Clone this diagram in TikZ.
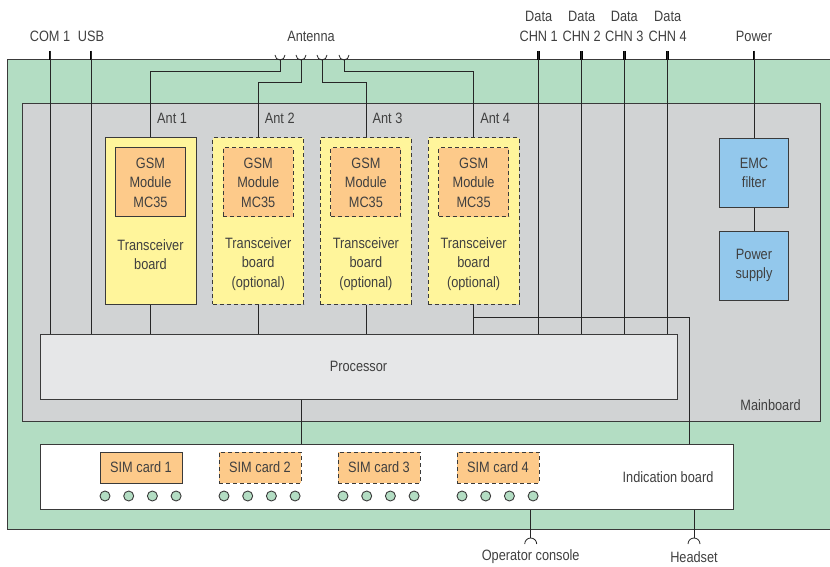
\documentclass[tikz,border=0pt]{standalone}
\usepackage{fontspec}
\setmainfont{Liberation Sans}[FakeStretch=0.85]
\usetikzlibrary{calc}
\definecolor{pcbgreen}{HTML}{B3DDC3}
\definecolor{mbgray}{HTML}{D1D3D4}
\definecolor{procgray}{HTML}{E6E7E8}
\definecolor{xcvryellow}{HTML}{FFF59B}
\definecolor{gsmorange}{HTML}{FDCA8A}
\definecolor{psublue}{HTML}{93C8EC}
\definecolor{linegray}{HTML}{3A3A3A}
\definecolor{txtgray}{HTML}{404040}
\tikzset{
  every node/.style={text=txtgray, font=\fontsize{15}{19.5}\selectfont, inner sep=0pt},
  wire/.style={draw=black!85, line width=0.8pt},
  pin/.style={draw=black, line width=2.6pt},
  boxline/.style={draw=linegray, line width=1pt},
  xcvr/.style={boxline, fill=xcvryellow, minimum width=91pt, minimum height=166pt},
  optxcvr/.style={xcvr, dash pattern=on 4pt off 3pt},
  gsm/.style={boxline, fill=gsmorange, minimum width=70pt, minimum height=69pt, align=center},
  optgsm/.style={gsm, dash pattern=on 4pt off 3pt},
  psu/.style={boxline, fill=psublue, minimum width=69pt, minimum height=69pt, align=center},
  simcard/.style={boxline, fill=gsmorange, minimum width=82pt, minimum height=31pt},
  optsim/.style={simcard, dash pattern=on 4pt off 3pt},
  led/.style={circle, draw=linegray, line width=0.9pt, fill=pcbgreen, minimum size=10pt},
}

\begin{document}
\begin{tikzpicture}[x=1pt, y=1pt]
			%%%%% START %%%%%
			\useasboundingbox (0,0) rectangle (830,566);
			
			% boards
			\fill[pcbgreen] (7,37) rectangle (830,506);
			\draw[linegray, line width=1pt] (830,506) -- (7,506) -- (7,37) -- (830,37);
			\draw[boxline, fill=mbgray] (22,145) rectangle (820,462);
			\node (mblabel) at (770.5,160.5) {Mainboard};
			
			% pins on top
			\coordinate (com) at (50,515);
			\coordinate (usb) at (91,515);
			\coordinate (dat1) at (538.7,515);
			\coordinate (dat2) at (581.7,515);
			\coordinate (dat3) at (624.3,515);
			\coordinate (dat4) at (667.7,515);
			\coordinate (pwr) at (754,515);
			\node (comlbl) at (50,530) {COM 1};
			\node (usblbl) at (91,530) {USB};
			\node[align=center] (dat1lbl) at (538.7,539.5) {Data\\CHN 1};
			\node[align=center] (dat2lbl) at (581.7,539.5) {Data\\CHN 2};
			\node[align=center] (dat3lbl) at (624.3,539.5) {Data\\CHN 3};
			\node[align=center] (dat4lbl) at (667.7,539.5) {Data\\CHN 4};
			\node (pwrlbl) at (754,530) {Power};
			\node (antlbl) at (311,530) {Antenna};
			
			% antenna sockets
			\coordinate (ant1) at (280,506);
			\coordinate (ant2) at (301,506);
			\coordinate (ant3) at (322,506);
			\coordinate (ant4) at (344,506);
			\draw[wire] ($(ant1)+(-5,5)$) arc[start angle=180, end angle=360, radius=5];
			\draw[wire] ($(ant2)+(-5,5)$) arc[start angle=180, end angle=360, radius=5];
			\draw[wire] ($(ant3)+(-5,5)$) arc[start angle=180, end angle=360, radius=5];
			\draw[wire] ($(ant4)+(-5,5)$) arc[start angle=180, end angle=360, radius=5];
			
			% processor, power
			\node[boxline, fill=procgray, minimum width=637pt, minimum height=65pt] (proc) at (358.5,199.5) {Processor};
			\node[psu] (emc) at (754,393.3) {EMC\\filter};
			\node[psu] (psu) at (754,300.5) {Power\\supply};
			
			% transceiver boards
			\node[xcvr] (tb1) at (150.5,345) {};
			\node[optxcvr] (tb2) at (258.2,345) {};
			\node[optxcvr] (tb3) at (365.9,345) {};
			\node[optxcvr] (tb4) at (473.6,345) {};
			\node[gsm] (gsm1) at (150.5,383.5) {GSM\\Module\\MC35};
			\node[optgsm] (gsm2) at (258.2,383.5) {GSM\\Module\\MC35};
			\node[optgsm] (gsm3) at (365.9,383.5) {GSM\\Module\\MC35};
			\node[optgsm] (gsm4) at (473.6,383.5) {GSM\\Module\\MC35};
			\node[align=center] (tt1) at (150.5,311.5) {Transceiver\\board};
			\node[align=center] (tt2) at (258.2,302) {Transceiver\\board\\(optional)};
			\node[align=center] (tt3) at (365.9,302) {Transceiver\\board\\(optional)};
			\node[align=center] (tt4) at (473.6,302) {Transceiver\\board\\(optional)};
			\node[anchor=west] (al1) at ($(tb1.north)+(6.5,19)$) {Ant 1};
			\node[anchor=west] (al2) at ($(tb2.north)+(6.5,19)$) {Ant 2};
			\node[anchor=west] (al3) at ($(tb3.north)+(6.5,19)$) {Ant 3};
			\node[anchor=west] (al4) at ($(tb4.north)+(6.5,19)$) {Ant 4};
			
			% indication board
			\node[boxline, fill=white, minimum width=693pt, minimum height=65pt] (ind) at (386.5,89.5) {};
			\node (indlbl) at (668,89.3) {Indication board};
			\node[simcard] (sim1) at (141,98.5) {SIM card 1};
			\node[optsim] (sim2) at (260,98.5) {SIM card 2};
			\node[optsim] (sim3) at (379,98.5) {SIM card 3};
			\node[optsim] (sim4) at (498,98.5) {SIM card 4};
			\foreach \s in {1,2,3,4}
			  \foreach \k in {0,1,2,3}
			    \node[led] (led\s\k) at ($(sim\s.west)+(5.5+23.7*\k,-28.5)$) {};
			
			% wiring
			\draw[pin] (com) -- ++(0,-9);
			\draw[pin] (usb) -- ++(0,-9);
			\draw[pin] (dat1) -- ++(0,-9);
			\draw[pin] (dat2) -- ++(0,-9);
			\draw[pin] (dat3) -- ++(0,-9);
			\draw[pin] (dat4) -- ++(0,-9);
			\draw[pin] (pwr) -- ++(0,-9);
			\draw[wire] (com) -- (com |- proc.north);
			\draw[wire] (usb) -- (usb |- proc.north);
			\draw[wire] (dat1) -- (dat1 |- proc.north);
			\draw[wire] (dat2) -- (dat2 |- proc.north);
			\draw[wire] (dat3) -- (dat3 |- proc.north);
			\draw[wire] (dat4) -- (dat4 |- proc.north);
			\draw[wire] (pwr) -- (emc.north);
			\draw[wire] (emc.south) -- (psu.north);
			
			\draw[wire] (ant1) -- ++(0,-11) -| (tb1.north);
			\draw[wire] (ant2) -- ++(0,-22) -| (tb2.north);
			\draw[wire] (ant3) -- ++(0,-22) -| (tb3.north);
			\draw[wire] (ant4) -- ++(0,-11) -| (tb4.north);
			
			\draw[wire] (tb1.south) -- (tb1 |- proc.north);
			\draw[wire] (tb2.south) -- (tb2 |- proc.north);
			\draw[wire] (tb3.south) -- (tb3 |- proc.north);
			\draw[wire] (tb4.south) -- (tb4 |- proc.north);
			\coordinate (hsjoin) at (689.3,249);
			\draw[wire] (tb4 |- hsjoin) -- (hsjoin) -- (hsjoin |- ind.north);
			\draw[wire] (proc.south -| 301,0) -- (ind.north -| 301,0);
			
			% sockets below
			\coordinate (opc) at (530.7,22);
			\coordinate (hds) at (694,22);
			\draw[wire] (opc |- ind.south) -- ($(opc)+(0,6)$);
			\draw[wire] (hds |- ind.south) -- ($(hds)+(0,6)$);
			\draw[wire] ($(opc)+(-6,0)$) arc[start angle=180, end angle=0, radius=6];
			\draw[wire] ($(hds)+(-6,0)$) arc[start angle=180, end angle=0, radius=6];
			\node (opclbl) at (530.7,9) {Operator console};
			\node (hdslbl) at (694,9) {Headset};
			
			%%%%% END %%%%%
\end{tikzpicture}
\end{document}
